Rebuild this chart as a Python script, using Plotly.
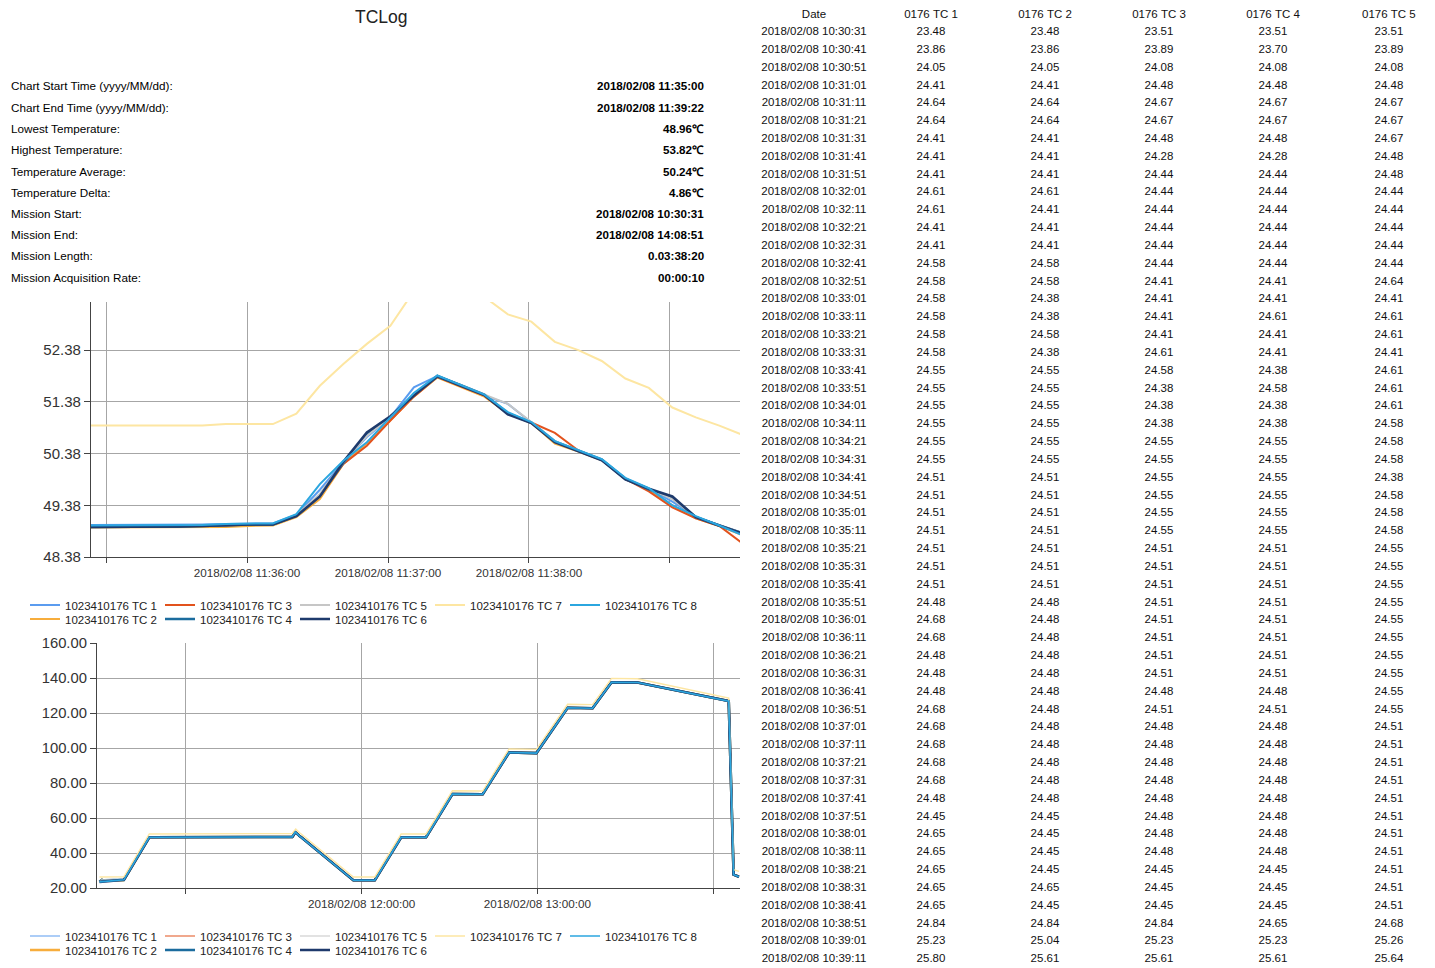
import plotly.graph_objects as go

DAY = "2018-02-08 "
FONT = "Liberation Sans, Arial, sans-serif"

title_text = "TCLog"
summary_labels = [
    "Chart Start Time (yyyy/MM/dd):", "Chart End Time (yyyy/MM/dd):", "Lowest Temperature:",
    "Highest Temperature:", "Temperature Average:", "Temperature Delta:", "Mission Start:",
    "Mission End:", "Mission Length:", "Mission Acquisition Rate:",
]
summary_values = [
    "2018/02/08 11:35:00", "2018/02/08 11:39:22", "48.96℃", "53.82℃", "50.24℃", "4.86℃",
    "2018/02/08 10:30:31", "2018/02/08 14:08:51", "0.03:38:20", "00:00:10",
]

series_names = ["1023410176 TC %d" % i for i in range(1, 9)]
series_colors = ["#5b9cef", "#f7ad3c", "#e2521d", "#1b6c9e", "#c6c6c6", "#1e3a6c", "#fde6a2", "#2ba6df"]

# ---------------- table (first 53 samples) ----------------
table_header = ["Date", "0176 TC 1", "0176 TC 2", "0176 TC 3", "0176 TC 4", "0176 TC 5"]
table_times = [
    "10:30:31", "10:30:41", "10:30:51", "10:31:01", "10:31:11", "10:31:21", "10:31:31", "10:31:41",
    "10:31:51", "10:32:01", "10:32:11", "10:32:21", "10:32:31", "10:32:41", "10:32:51", "10:33:01",
    "10:33:11", "10:33:21", "10:33:31", "10:33:41", "10:33:51", "10:34:01", "10:34:11", "10:34:21",
    "10:34:31", "10:34:41", "10:34:51", "10:35:01", "10:35:11", "10:35:21", "10:35:31", "10:35:41",
    "10:35:51", "10:36:01", "10:36:11", "10:36:21", "10:36:31", "10:36:41", "10:36:51", "10:37:01",
    "10:37:11", "10:37:21", "10:37:31", "10:37:41", "10:37:51", "10:38:01", "10:38:11", "10:38:21",
    "10:38:31", "10:38:41", "10:38:51", "10:39:01", "10:39:11",
]
tab_tc1 = [23.48, 23.86, 24.05, 24.41, 24.64, 24.64, 24.41, 24.41, 24.41, 24.61, 24.61, 24.41, 24.41,
           24.58, 24.58, 24.58, 24.58, 24.58, 24.58, 24.55, 24.55, 24.55, 24.55, 24.55, 24.55, 24.51,
           24.51, 24.51, 24.51, 24.51, 24.51, 24.51, 24.48, 24.68, 24.68, 24.48, 24.48, 24.48, 24.68,
           24.68, 24.68, 24.68, 24.68, 24.48, 24.45, 24.65, 24.65, 24.65, 24.65, 24.65, 24.84, 25.23, 25.80]
tab_tc2 = [23.48, 23.86, 24.05, 24.41, 24.64, 24.64, 24.41, 24.41, 24.41, 24.61, 24.41, 24.41, 24.41,
           24.58, 24.58, 24.38, 24.38, 24.58, 24.38, 24.55, 24.55, 24.55, 24.55, 24.55, 24.55, 24.51,
           24.51, 24.51, 24.51, 24.51, 24.51, 24.51, 24.48, 24.48, 24.48, 24.48, 24.48, 24.48, 24.48,
           24.48, 24.48, 24.48, 24.48, 24.48, 24.45, 24.45, 24.45, 24.45, 24.65, 24.45, 24.84, 25.04, 25.61]
tab_tc3 = [23.51, 23.89, 24.08, 24.48, 24.67, 24.67, 24.48, 24.28, 24.44, 24.44, 24.44, 24.44, 24.44,
           24.44, 24.41, 24.41, 24.41, 24.41, 24.61, 24.58, 24.38, 24.38, 24.38, 24.55, 24.55, 24.55,
           24.55, 24.55, 24.55, 24.51, 24.51, 24.51, 24.51, 24.51, 24.51, 24.51, 24.51, 24.48, 24.51,
           24.48, 24.48, 24.48, 24.48, 24.48, 24.48, 24.48, 24.48, 24.45, 24.45, 24.45, 24.84, 25.23, 25.61]
tab_tc4 = [23.51, 23.70, 24.08, 24.48, 24.67, 24.67, 24.48, 24.28, 24.44, 24.44, 24.44, 24.44, 24.44,
           24.44, 24.41, 24.41, 24.61, 24.41, 24.41, 24.38, 24.58, 24.38, 24.38, 24.55, 24.55, 24.55,
           24.55, 24.55, 24.55, 24.51, 24.51, 24.51, 24.51, 24.51, 24.51, 24.51, 24.51, 24.48, 24.51,
           24.48, 24.48, 24.48, 24.48, 24.48, 24.48, 24.48, 24.48, 24.45, 24.45, 24.45, 24.65, 25.23, 25.61]
tab_tc5 = [23.51, 23.89, 24.08, 24.48, 24.67, 24.67, 24.67, 24.48, 24.48, 24.44, 24.44, 24.44, 24.44,
           24.44, 24.64, 24.41, 24.61, 24.61, 24.41, 24.61, 24.61, 24.61, 24.58, 24.58, 24.58, 24.38,
           24.58, 24.58, 24.58, 24.55, 24.55, 24.55, 24.55, 24.55, 24.55, 24.55, 24.55, 24.55, 24.55,
           24.51, 24.51, 24.51, 24.51, 24.51, 24.51, 24.51, 24.51, 24.51, 24.51, 24.51, 24.68, 25.26, 25.64]

# ---------------- zoomed window (top chart) ----------------
zoom_times = [
    "11:34:51", "11:35:01", "11:35:11", "11:35:21", "11:35:31", "11:35:41", "11:35:51", "11:36:01",
    "11:36:11", "11:36:21", "11:36:31", "11:36:41", "11:36:51", "11:37:01", "11:37:11", "11:37:21",
    "11:37:31", "11:37:41", "11:37:51", "11:38:01", "11:38:11", "11:38:21", "11:38:31", "11:38:41",
    "11:38:51", "11:39:01", "11:39:11", "11:39:21", "11:39:31",
]
zoom_tc1 = [49.00, 49.00, 49.00, 49.00, 49.00, 49.01, 49.02, 49.03, 49.03, 49.20, 49.68, 50.22, 50.70,
            51.08, 51.66, 51.88, 51.70, 51.50, 51.34, 50.98, 50.62, 50.44, 50.26, 49.90, 49.70, 49.45,
            49.16, 48.99, 48.83]
zoom_tc2 = [48.95, 48.95, 48.95, 48.95, 48.95, 48.95, 48.96, 48.98, 48.99, 49.15, 49.50, 50.18, 50.58,
            51.02, 51.48, 51.85, 51.66, 51.48, 51.15, 50.97, 50.57, 50.42, 50.25, 49.89, 49.68, 49.38,
            49.13, 48.98, 48.80]
zoom_tc3 = [48.97, 48.97, 48.97, 48.97, 48.97, 48.98, 48.99, 49.01, 49.01, 49.18, 49.56, 50.18, 50.53,
            51.02, 51.48, 51.86, 51.68, 51.50, 51.15, 50.98, 50.78, 50.44, 50.26, 49.89, 49.65, 49.34,
            49.13, 48.98, 48.64]
zoom_tc4 = [48.96, 48.96, 48.96, 48.96, 48.97, 48.98, 49.00, 49.01, 49.01, 49.18, 49.57, 50.20, 50.76,
            51.08, 51.51, 51.87, 51.70, 51.52, 51.16, 50.98, 50.61, 50.44, 50.26, 49.89, 49.69, 49.52,
            49.15, 48.99, 48.84]
zoom_tc5 = [48.97, 48.97, 48.97, 48.97, 48.98, 48.99, 49.01, 49.02, 49.02, 49.19, 49.60, 50.21, 50.72,
            51.08, 51.52, 51.88, 51.70, 51.52, 51.34, 50.99, 50.62, 50.44, 50.26, 49.90, 49.70, 49.50,
            49.15, 48.99, 48.84]
zoom_tc6 = [48.96, 48.96, 48.96, 48.96, 48.97, 48.98, 49.00, 49.01, 49.01, 49.17, 49.55, 50.22, 50.79,
            51.10, 51.50, 51.88, 51.69, 51.51, 51.14, 50.97, 50.60, 50.43, 50.25, 49.88, 49.70, 49.55,
            49.15, 48.99, 48.83]
zoom_tc7 = [50.92, 50.92, 50.92, 50.92, 50.92, 50.92, 50.95, 50.95, 50.95, 51.15, 51.69, 52.11, 52.50,
            52.85, 53.52, 53.82, 53.70, 53.41, 53.07, 52.93, 52.54, 52.38, 52.17, 51.83, 51.65, 51.27,
            51.08, 50.92, 50.74]
zoom_tc8 = [48.99, 48.99, 48.99, 48.99, 48.99, 49.00, 49.02, 49.03, 49.03, 49.21, 49.79, 50.24, 50.60,
            51.08, 51.55, 51.89, 51.70, 51.52, 51.18, 50.99, 50.62, 50.45, 50.27, 49.91, 49.71, 49.38,
            49.17, 48.99, 48.80]

# ---------------- rest of the mission (bottom chart) ----------------
lead_times = ["10:30:31", "10:38:51"]
lead_tc6 = [23.50, 24.65]
lead_tc7 = [26.30, 26.40]
lead_tc8 = [23.49, 24.66]
mid_times = ["10:47:31", "11:34:41"]
mid_cluster = [48.98, 48.96]
mid_tc7 = [50.85, 50.92]
tail_times = ["11:57:11", "12:04:31", "12:13:31", "12:22:01", "12:31:01", "12:41:21", "12:50:21",
              "12:59:41", "13:10:21", "13:18:51", "13:25:21", "13:34:11", "14:05:21", "14:07:01", "14:08:51"]
tail_cluster = [24.4, 24.4, 49.0, 49.0, 73.7, 73.6, 97.4, 97.1, 123.0, 122.7, 137.6, 137.4, 126.8, 27.6, 26.4]
tail_tc7 = [26.3, 26.3, 50.9, 50.9, 75.6, 75.4, 99.5, 99.2, 125.0, 124.8, 139.8, 139.6, 128.6, 30.5, 29.5]

top_yticks = [48.38, 49.38, 50.38, 51.38, 52.38]
top_xticks = ["11:35:00", "11:36:00", "11:37:00", "11:38:00", "11:39:00"]
top_xlabels = ["", "2018/02/08 11:36:00", "2018/02/08 11:37:00", "2018/02/08 11:38:00", ""]
bot_yticks = [20, 40, 60, 80, 100, 120, 140, 160]
bot_xticks = ["11:00:00", "12:00:00", "13:00:00", "14:00:00"]
bot_xlabels = ["", "2018/02/08 12:00:00", "2018/02/08 13:00:00", ""]


def ts(lst):
    return [DAY + t for t in lst]


zoom_series = [zoom_tc1, zoom_tc2, zoom_tc3, zoom_tc4, zoom_tc5, zoom_tc6, zoom_tc7, zoom_tc8]
tab_series = [tab_tc1, tab_tc2, tab_tc3, tab_tc4, tab_tc5]

W, H = 1435, 968
px = lambda v: v / W
py = lambda v: 1 - v / H

fig = go.Figure()

top_widths = [2, 2, 2, 2.6, 2, 2.6, 2, 2]
for i in range(8):
    fig.add_trace(go.Scatter(
        x=ts(zoom_times), y=zoom_series[i], mode="lines", name=series_names[i],
        line=dict(color=series_colors[i], width=top_widths[i]),
        xaxis="x", yaxis="y",
        legend="legend2" if i in (1, 3, 5) else "legend",
    ))

bot_widths = [1.2, 2.6, 1.2, 2.6, 1.2, 2.6, 1.4, 1.6]
for i in range(8):
    if i < 5:
        bx = table_times + mid_times + zoom_times + tail_times
        by = tab_series[i] + mid_cluster + zoom_series[i] + tail_cluster
    elif i == 5:
        bx = lead_times + mid_times + zoom_times + tail_times
        by = lead_tc6 + mid_cluster + zoom_series[i] + tail_cluster
    elif i == 6:
        bx = lead_times + mid_times + zoom_times + tail_times
        by = lead_tc7 + mid_tc7 + zoom_series[i] + tail_tc7
    else:
        bx = lead_times + mid_times + zoom_times + tail_times
        by = lead_tc8 + mid_cluster + zoom_series[i] + tail_cluster
    fig.add_trace(go.Scatter(
        x=ts(bx), y=by, mode="lines", name=series_names[i],
        line=dict(color=series_colors[i], width=bot_widths[i]),
        xaxis="x2", yaxis="y2",
        legend="legend4" if i in (1, 3, 5) else "legend3",
    ))

# table (non-breaking spaces keep each date on one line; leading ones nudge the last column)
NB = "\u00a0"
last_pad = NB * 4
header_cells = [h.replace(" ", NB) for h in table_header]
header_cells[-1] = last_pad + header_cells[-1]
cell_cols = [[("2018/02/08 " + t).replace(" ", NB) for t in table_times]]
cell_cols += [["%.2f" % v for v in s] for s in tab_series[:-1]]
cell_cols += [[last_pad + "%.2f" % v for v in tab_series[-1]]]
fig.add_trace(go.Table(
    domain=dict(x=[px(754), 1], y=[py(967), py(1.4)]),
    columnwidth=[120, 114, 114, 114, 114, 105],
    header=dict(values=header_cells, fill_color="white", line=dict(color="white", width=0),
                font=dict(family=FONT, size=11.5, color="#111"), height=17, align="center"),
    cells=dict(values=cell_cols, fill_color="white", line=dict(color="white", width=0),
               font=dict(family=FONT, size=11.5, color="#111"), height=17.83, align="center"),
))

grid = "#a6a6a6"
axis_common = dict(showgrid=True, gridcolor=grid, gridwidth=1, showline=True, linecolor="#444",
                   linewidth=1.2, ticks="outside", tickcolor="#444", zeroline=False, fixedrange=True,
                   automargin=False)

annotations = [dict(text=title_text, x=px(381), y=py(17), xref="paper", yref="paper", showarrow=False,
                    xanchor="center", yanchor="middle", font=dict(family=FONT, size=17.5, color="#222"))]
rows_y = [86, 107, 129, 150, 171, 192, 213, 234, 255, 277]
for lab, val, yy in zip(summary_labels, summary_values, rows_y):
    annotations.append(dict(text=lab, x=px(9), y=py(yy), xref="paper", yref="paper", showarrow=False,
                            xanchor="left", yanchor="middle", font=dict(family=FONT, size=11.7, color="#000")))
    annotations.append(dict(text="<b>" + val + "</b>", x=px(706), y=py(yy), xref="paper", yref="paper",
                            showarrow=False, xanchor="right", yanchor="middle",
                            font=dict(family=FONT, size=11.6, color="#000")))

leg_common = dict(orientation="h", xanchor="left", yanchor="middle", entrywidth=90, entrywidthmode="pixels",
                  itemwidth=30, font=dict(family=FONT, size=11.5, color="#222"), bgcolor="rgba(0,0,0,0)",
                  itemclick=False, itemdoubleclick=False)
LX = px(25)

fig.update_layout(
    width=W, height=H, margin=dict(l=0, r=0, t=0, b=0, autoexpand=False),
    paper_bgcolor="white", plot_bgcolor="white",
    font=dict(family=FONT, size=11.5, color="#333"),
    showlegend=True,
    xaxis=dict(domain=[px(91), px(740)], anchor="y", type="date",
               range=[DAY + "11:34:53.6", DAY + "11:39:29.8"],
               tickvals=ts(top_xticks), ticktext=top_xlabels, ticklen=5,
               tickfont=dict(family=FONT, size=11.7, color="#333"), **axis_common),
    yaxis=dict(domain=[py(557), py(302)], anchor="x", range=[48.38, 53.31],
               tickvals=top_yticks, ticktext=["%.2f" % v for v in top_yticks], ticklen=6,
               tickfont=dict(family=FONT, size=15, color="#333"), **axis_common),
    xaxis2=dict(domain=[px(97), px(740)], anchor="y2", type="date",
                range=[DAY + "10:29:40", DAY + "14:09:12"],
                tickvals=ts(bot_xticks), ticktext=bot_xlabels, ticklen=5,
                tickfont=dict(family=FONT, size=11.7, color="#333"), **axis_common),
    yaxis2=dict(domain=[py(888), py(643)], anchor="x2", range=[20, 160],
                tickvals=bot_yticks, ticktext=["%.2f" % v for v in bot_yticks], ticklen=6,
                tickfont=dict(family=FONT, size=14.8, color="#333"), **axis_common),
    legend=dict(x=LX, y=py(605), **leg_common),
    legend2=dict(x=LX, y=py(619), **leg_common),
    legend3=dict(x=LX, y=py(936), **leg_common),
    legend4=dict(x=LX, y=py(950), **leg_common),
    annotations=annotations,
)

fig.write_html("out.html", config={"displayModeBar": False},
               post_script="document.body.style.margin='0';")
